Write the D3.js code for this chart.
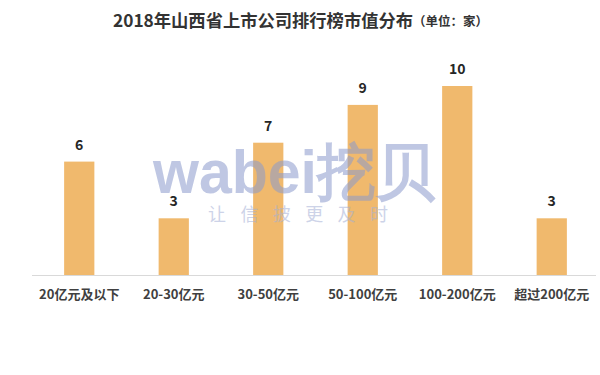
<!DOCTYPE html>
<html>
<head>
<meta charset="utf-8">
<script src="https://cdn.jsdelivr.net/npm/d3@7"></script>
<style>
  body { margin: 0; background: #fff; }
  svg { display: block; font-family: "Noto Sans CJK SC", "Noto Sans", sans-serif; }
</style>
</head>
<body>
<div id="chart"></div>
<script>
// chart data
let categories = ['20亿元及以下', '20-30亿元', '30-50亿元', '50-100亿元', '100-200亿元', '超过200亿元'];
let counts = [6, 3, 7, 9, 10, 3];
let titleMain = '2018年山西省上市公司排行榜市值分布';
let titleUnit = '（单位：家）';

let width = 600;
let height = 375;
let margin = { top: 86, right: 1, bottom: 100, left: 32 };

const svg = d3.select('#chart')
  .append('svg')
  .attr('width', width)
  .attr('height', height);

let x = d3.scaleBand()
  .domain(categories)
  .range([margin.left, width - margin.right])
  .paddingInner(0.68)
  .paddingOuter(0.34);

let y = d3.scaleLinear()
  .domain([0, 10])
  .range([height - margin.bottom, margin.top]);

// title
let title = svg.append('text')
  .attr('x', 113)
  .attr('y', 27)
  .attr('fill', '#333')
  .attr('font-weight', 'bold');
title.append('tspan').attr('font-size', 17.3).text(titleMain);
title.append('tspan').attr('font-size', 12.5).attr('dy', -1).text(titleUnit);

// bars
svg.append('g')
  .selectAll('rect')
  .data(counts)
  .enter()
  .append('rect')
  .attr('x', (d, i) => x(categories[i]))
  .attr('y', (d) => y(d))
  .attr('width', x.bandwidth())
  .attr('height', (d) => y(0) - y(d))
  .attr('fill', '#f0b96d');

// value labels
svg.append('g')
  .selectAll('text')
  .data(counts)
  .enter()
  .append('text')
  .attr('x', (d, i) => x(categories[i]) + x.bandwidth() / 2)
  .attr('y', (d) => y(d) - 12)
  .attr('text-anchor', 'middle')
  .attr('font-size', 14)
  .attr('font-weight', 'bold')
  .attr('fill', '#262626')
  .text((d) => d);

// x axis
let xAxis = svg.append('g')
  .attr('transform', `translate(0,${y(0)})`)
  .call(d3.axisBottom(x).tickSize(0).tickPadding(15));
xAxis.select('.domain').attr('stroke', '#d9d9d9').attr('d', `M${margin.left},0.5H596`);
xAxis.selectAll('.tick text')
  .attr('font-family', '"Noto Sans CJK SC", sans-serif')
  .attr('font-size', 13)
  .attr('font-weight', 'bold')
  .attr('fill', '#404040');

// watermark
let mark = svg.append('g').attr('opacity', 0.55);
mark.append('text')
  .attr('x', 153)
  .attr('y', 193)
  .attr('textLength', 282)
  .attr('lengthAdjust', 'spacingAndGlyphs')
  .attr('font-family', '"Liberation Sans", sans-serif')
  .attr('font-size', 62)
  .attr('font-weight', 'bold')
  .attr('fill', '#8c9bcd')
  .text('wabei挖贝');
mark.append('text')
  .attr('x', 208)
  .attr('y', 221)
  .attr('textLength', 180)
  .attr('font-size', 18)
  .attr('fill', '#a5b0d6')
  .text('让信披更及时');
</script>
</body>
</html>
